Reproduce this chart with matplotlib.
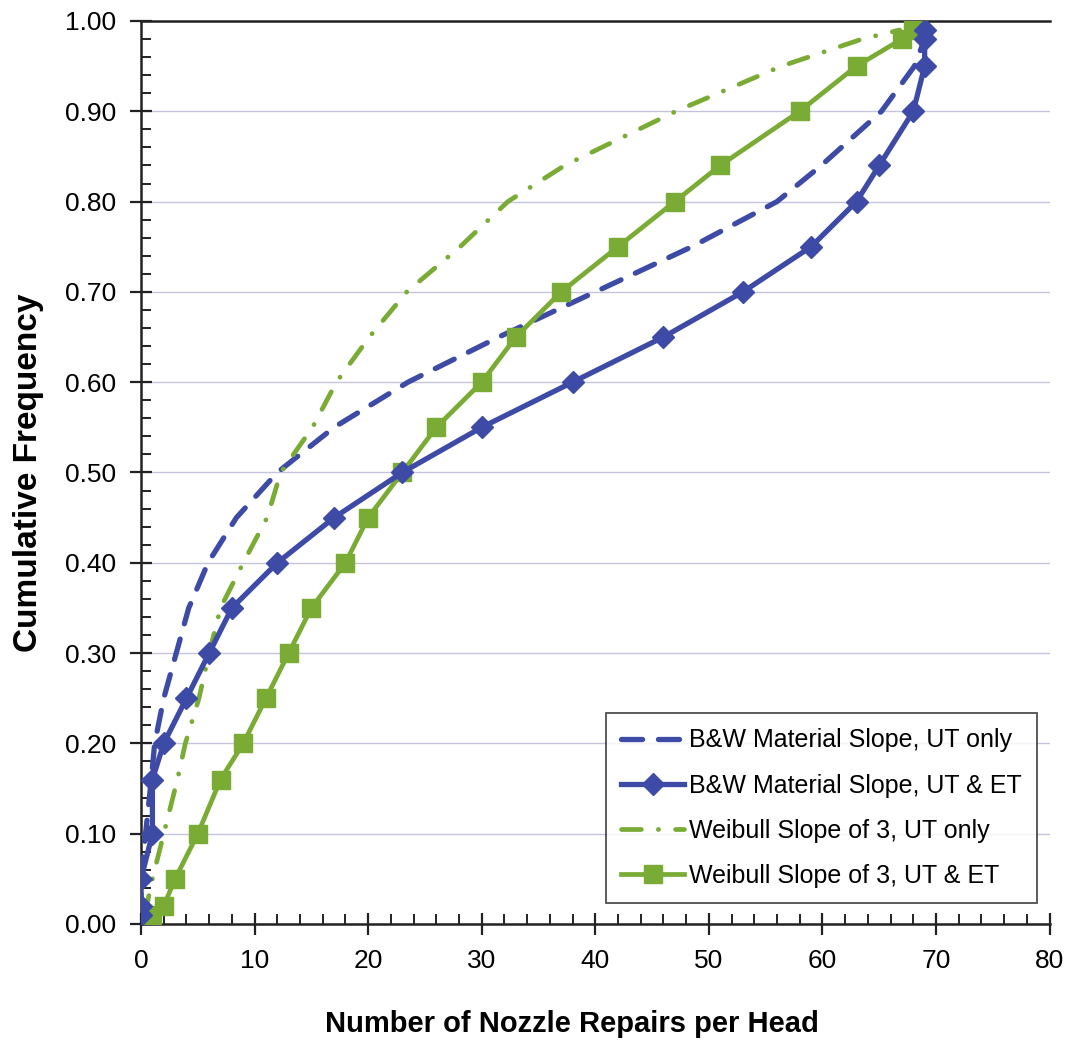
import matplotlib
matplotlib.use("Agg")
import matplotlib.pyplot as plt
from matplotlib.ticker import MultipleLocator, FormatStrFormatter

plt.rcParams['font.family'] = ['Liberation Sans', 'DejaVu Sans']

# ---- data ----
cum_freq = [0.01, 0.02, 0.05, 0.10, 0.16, 0.20, 0.25, 0.30, 0.35, 0.40, 0.45,
            0.50, 0.55, 0.60, 0.65, 0.70, 0.75, 0.80, 0.84, 0.90, 0.95, 0.98, 0.99]

bw_ut_only = [0, 0, 0, 0.4, 0.9, 1.2, 2.0, 3.1, 4.2, 5.9, 8.4, 12.0, 17.0, 23.5,
              31.5, 40.0, 48.5, 56.0, 59.9, 65.2, 68.1, 69.0, 69.2]
bw_ut_et = [0, 0, 0, 1, 1, 2, 4, 6, 8, 12, 17, 23, 30, 38, 46, 53, 59, 63, 65,
            68, 69, 69, 69]
weib_ut_only = [0.3, 0.5, 1.0, 2.0, 3.2, 3.9, 5.1, 6.0, 7.0, 9.0, 11.1, 12.3,
                15.1, 17.2, 20.1, 23.4, 28.1, 32.3, 37.3, 47.1, 56.4, 63.5, 66.8]
weib_ut_et = [1, 2, 3, 5, 7, 9, 11, 13, 15, 18, 20, 23, 26, 30, 33, 37, 42, 47,
              51, 58, 63, 67, 68]

labels = ["B&W Material Slope, UT only",
          "B&W Material Slope, UT & ET",
          "Weibull Slope of 3, UT only",
          "Weibull Slope of 3, UT & ET"]
x_label = "Number of Nozzle Repairs per Head"
y_label = "Cumulative Frequency"

blue = "#3d4aa6"
green = "#7aab34"

fig = plt.figure(figsize=(10.71, 10.43), dpi=100)
ax = fig.add_axes([0.1317, 0.1141, 0.8483, 0.8658])

ax.set_xlim(0, 80)
ax.set_ylim(0, 1.0)

ax.yaxis.grid(True, which='major', color='#c4c4de', linewidth=1.0)
ax.set_axisbelow(True)

l1, = ax.plot(bw_ut_only, cum_freq, color=blue, lw=3.8, dashes=(4.0, 3.0),
              dash_capstyle='round', label=labels[0], zorder=3)
l3, = ax.plot(weib_ut_only, cum_freq, color=green, lw=3.4,
              dashes=(4.2, 3.6, 0.05, 3.6), dash_capstyle='round',
              label=labels[2], zorder=3)
l4, = ax.plot(weib_ut_et, cum_freq, color=green, lw=3.4, marker='s',
              markersize=13, markerfacecolor=green, markeredgecolor=green,
              label=labels[3], zorder=4)
l2, = ax.plot(bw_ut_et, cum_freq, color=blue, lw=3.8, marker='D',
              markersize=11, markerfacecolor=blue, markeredgecolor=blue,
              label=labels[1], zorder=5)

ax.xaxis.set_major_locator(MultipleLocator(10))
ax.xaxis.set_minor_locator(MultipleLocator(2))
ax.yaxis.set_major_locator(MultipleLocator(0.1))
ax.yaxis.set_minor_locator(MultipleLocator(0.02))
ax.yaxis.set_major_formatter(FormatStrFormatter('%.2f'))

ax.tick_params(axis='both', which='major', direction='inout', length=16,
               width=1.6, labelsize=19, pad=10, color='#222222')
ax.tick_params(axis='both', which='minor', direction='in', length=7,
               width=1.4, color='#222222')

for side in ['left', 'bottom', 'top']:
    ax.spines[side].set_linewidth(1.8)
    ax.spines[side].set_color('#222222')
ax.spines['right'].set_visible(False)

ax.set_xlabel(x_label, fontsize=21, fontweight='bold')
ax.xaxis.set_label_coords(0.474, -0.095)
ax.set_ylabel(y_label, fontsize=24, fontweight='bold')
ax.yaxis.set_label_coords(-0.107, 0.5)

leg = ax.legend(handles=[l1, l2, l3, l4], loc='lower right', fontsize=18,
                frameon=True, fancybox=False, edgecolor='#222222',
                handlelength=2.5, handletextpad=0.2, labelspacing=0.85,
                borderpad=0.6, numpoints=1, borderaxespad=0.0,
                bbox_to_anchor=(0.9857, 0.023))
leg.get_frame().set_linewidth(1.3)

fig.savefig("out.png", dpi=100)
